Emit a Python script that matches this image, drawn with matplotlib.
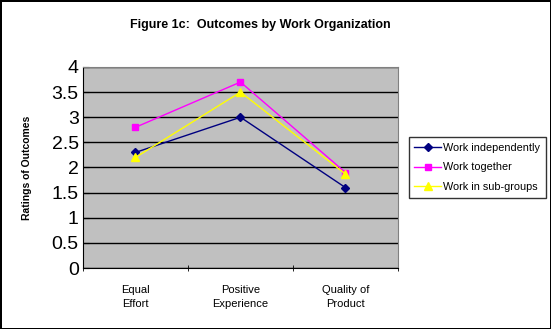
import matplotlib.pyplot as plt
import numpy as np

plt.rcParams['font.family'] = ['Liberation Sans', 'DejaVu Sans']

# Data
categories = ["Equal\nEffort", "Positive\nExperience", "Quality of\nProduct"]
independently = [2.3, 3.0, 1.6]
together = [2.8, 3.7, 1.9]
sub_groups = [2.2, 3.5, 1.87]

fig = plt.figure(figsize=(5.51, 3.29), dpi=100)
fig.patch.set_edgecolor('black')
fig.patch.set_linewidth(2)
ax = fig.add_axes([0.1506, 0.1854, 0.5717, 0.611])
ax.set_facecolor('#c0c0c0')

x = np.arange(len(categories))
ax.plot(x, independently, color='#000080', marker='D', markersize=4, lw=1, label="Work independently")
ax.plot(x, together, color='#ff00ff', marker='s', markersize=5, lw=1, label="Work together")
ax.plot(x, sub_groups, color='#ffff00', marker='^', markersize=6, lw=1, label="Work in sub-groups")

ax.set_xlim(-0.5, 2.5)
ax.set_ylim(0, 4)
ax.set_yticks(np.arange(0, 4.01, 0.5))
ax.set_yticklabels(['0', '0.5', '1', '1.5', '2', '2.5', '3', '3.5', '4'], fontsize=14)
ax.yaxis.grid(True, color='black', lw=1)
ax.set_axisbelow(True)

ax.set_xticks(x)
ax.set_xticklabels(categories, fontsize=8, linespacing=1.5)
ax.tick_params(axis='x', length=0, pad=12)
ax.set_xticks([-0.5, 0.5, 1.5, 2.5], minor=True)
ax.tick_params(axis='x', which='minor', length=5, direction='inout', color='black')
ax.tick_params(axis='y', length=4, direction='in', pad=3)

for side in ['top', 'right']:
    ax.spines[side].set_color('#808080')
ax.spines['left'].set_color('black')
ax.spines['bottom'].set_color('black')

ax.set_ylabel("Ratings of Outcomes", fontsize=7.5, fontweight='bold', labelpad=14)
fig.text(0.472, 0.925, "Figure 1c:  Outcomes by Work Organization", fontsize=9,
         fontweight='bold', ha='center', va='center')

leg = ax.legend(loc='center left', bbox_to_anchor=(1.017, 0.5), fontsize=7.8,
                frameon=True, fancybox=False, edgecolor='black', borderpad=0.5,
                handlelength=2.5, labelspacing=0.9, handletextpad=0.2)
leg.get_frame().set_linewidth(1)

fig.savefig('out.png', dpi=100, edgecolor=fig.get_edgecolor())
